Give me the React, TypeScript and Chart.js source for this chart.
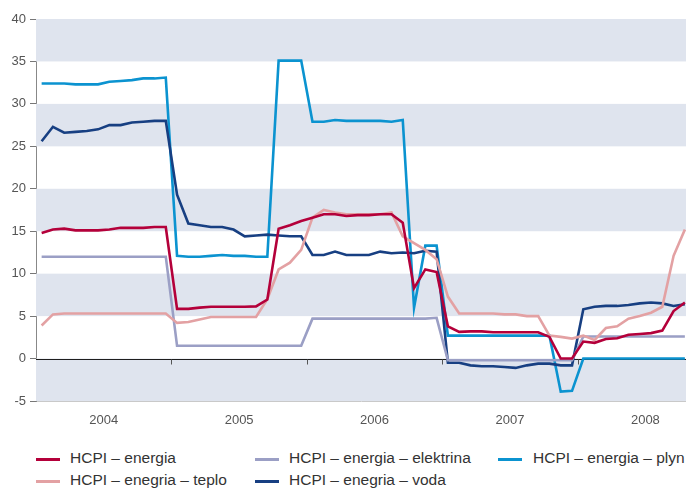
import React, { useEffect, useRef } from "react";
import { Chart, registerables } from "chart.js";

Chart.register(...registerables);

const years = ["2004", "2005", "2006", "2007", "2008"];
const yTicks = [-5, 0, 5, 10, 15, 20, 25, 30, 35, 40];

// monthly values, Jan 2004 – Oct 2008
const energia = [
  14.8, 15.2, 15.3, 15.1, 15.1, 15.1, 15.2, 15.4, 15.4, 15.4, 15.5, 15.5,
  5.85, 5.85, 6.0, 6.1, 6.1, 6.1, 6.1, 6.15, 6.95, 15.3, 15.7, 16.2,
  16.6, 17.0, 17.0, 16.8, 16.9, 16.9, 17.0, 17.0, 16.0, 8.3, 10.5, 10.2,
  3.8, 3.15, 3.2, 3.2, 3.1, 3.1, 3.1, 3.1, 3.1, 2.55, 0.0, 0.0,
  2.0, 1.85, 2.3, 2.4, 2.8, 2.9, 3.0, 3.3, 5.6, 6.6,
];
const teplo = [
  3.9, 5.2, 5.3, 5.3, 5.3, 5.3, 5.3, 5.3, 5.3, 5.3, 5.3, 5.3,
  4.2, 4.3, 4.6, 4.9, 4.9, 4.9, 4.9, 4.9, 7.0, 10.5, 11.3, 12.8,
  16.6, 17.5, 17.2, 17.0, 17.0, 17.0, 17.0, 17.2, 14.4, 13.6, 12.8, 11.7,
  7.3, 5.3, 5.3, 5.3, 5.3, 5.2, 5.2, 5.0, 5.0, 2.7, 2.55, 2.35,
  2.7, 2.2, 3.6, 3.8, 4.7, 5.0, 5.4, 6.1, 12.1, 15.2,
];
const elektrina = [
  12.0, 12.0, 12.0, 12.0, 12.0, 12.0, 12.0, 12.0, 12.0, 12.0, 12.0, 12.0,
  1.5, 1.5, 1.5, 1.5, 1.5, 1.5, 1.5, 1.5, 1.5, 1.5, 1.5, 1.5,
  4.7, 4.7, 4.7, 4.7, 4.7, 4.7, 4.7, 4.7, 4.7, 4.7, 4.7, 4.8,
  -0.2, -0.2, -0.2, -0.2, -0.2, -0.2, -0.2, -0.2, -0.2, -0.2, -0.2, -0.2,
  2.6, 2.6, 2.6, 2.6, 2.6, 2.6, 2.6, 2.6, 2.6, 2.6,
];
const plyn = [
  32.4, 32.4, 32.4, 32.3, 32.3, 32.3, 32.6, 32.7, 32.8, 33.0, 33.0, 33.1,
  12.1, 12.0, 12.0, 12.1, 12.2, 12.1, 12.1, 12.0, 12.0, 35.1, 35.1, 35.1,
  27.9, 27.9, 28.1, 28.0, 28.0, 28.0, 28.0, 27.9, 28.1, 6.0, 13.3, 13.3,
  2.7, 2.7, 2.7, 2.7, 2.7, 2.7, 2.7, 2.7, 2.7, 2.7, -3.9, -3.8,
  0.0, 0.0, 0.0, 0.0, 0.0, 0.0, 0.0, 0.0, 0.0, 0.0,
];
const voda = [
  25.6, 27.3, 26.6, 26.7, 26.8, 27.0, 27.5, 27.5, 27.8, 27.9, 28.0, 28.0,
  19.3, 15.9, 15.7, 15.5, 15.5, 15.2, 14.4, 14.5, 14.6, 14.5, 14.4, 14.4,
  12.2, 12.2, 12.6, 12.2, 12.2, 12.2, 12.6, 12.4, 12.5, 12.4, 12.7, 12.6,
  -0.5, -0.5, -0.8, -0.9, -0.9, -1.0, -1.1, -0.8, -0.6, -0.6, -0.8, -0.8,
  5.8, 6.1, 6.2, 6.2, 6.3, 6.5, 6.6, 6.5, 6.2, 6.4,
];

const seriesNames = [
  "HCPI – energia",
  "HCPI – enegria – teplo",
  "HCPI – energia – elektrina",
  "HCPI – enegria – voda",
  "HCPI – energia – plyn",
];
const seriesColors = ["#b4003a", "#e3a1a3", "#9b9fc5", "#173f82", "#0b93d0"];

const FONT = '"Liberation Sans", Arial, sans-serif';

const legendItems = [
  { name: seriesNames[0], color: seriesColors[0], lx: 36, tx: 70, y: 459 },
  { name: seriesNames[2], color: seriesColors[2], lx: 255, tx: 289, y: 459 },
  { name: seriesNames[4], color: seriesColors[4], lx: 498, tx: 533, y: 459 },
  { name: seriesNames[1], color: seriesColors[1], lx: 36, tx: 70, y: 481 },
  { name: seriesNames[3], color: seriesColors[3], lx: 255, tx: 289, y: 481 },
];

const toPoints = (arr: number[]) => arr.map((v, i) => ({ x: i + 0.5, y: v }));

const bandsPlugin = {
  id: "bands",
  beforeDatasetsDraw(chart: any) {
    const { ctx, chartArea, scales } = chart;
    const y = scales.y;
    ctx.save();
    ctx.fillStyle = "#dfe4ee";
    for (const v of [-5, 5, 15, 25, 35]) {
      const top = y.getPixelForValue(v + 5);
      const bot = y.getPixelForValue(v);
      ctx.fillRect(chartArea.left, top, chartArea.right - chartArea.left, bot - top);
    }
    // zero line
    const zy = Math.round(y.getPixelForValue(0)) + 0.5;
    ctx.strokeStyle = "#1e1e1e";
    ctx.lineWidth = 1;
    ctx.beginPath();
    ctx.moveTo(chartArea.left, zy);
    ctx.lineTo(chartArea.right, zy);
    ctx.stroke();
    // year boundary ticks on zero line
    ctx.strokeStyle = "#555";
    for (let k = 1; k <= 4; k++) {
      const px = Math.round(scales.x.getPixelForValue(k * 12)) + 0.5;
      ctx.beginPath();
      ctx.moveTo(px, zy);
      ctx.lineTo(px, zy + 5);
      ctx.stroke();
    }
    ctx.restore();
  },
};

export default function App() {
  const ref = useRef<HTMLCanvasElement>(null);
  useEffect(() => {
    if (!ref.current) return;
    const data = [energia, teplo, elektrina, voda, plyn];
    const chart = new Chart(ref.current, {
      type: "line",
      data: {
        datasets: data.map((arr, i) => ({
          label: seriesNames[i],
          data: toPoints(arr),
          borderColor: seriesColors[i],
          backgroundColor: seriesColors[i],
          borderWidth: 2.6,
          pointRadius: 0,
          tension: 0,
          fill: false,
        })),
      },
      options: {
        animation: false,
        responsive: false,
        devicePixelRatio: 1,
        layout: { padding: { top: 19, left: 0, right: 0, bottom: 0 } },
        plugins: { legend: { display: false }, tooltip: { enabled: false } },
        scales: {
          x: {
            type: "linear",
            min: 0,
            max: 57.6,
            afterBuildTicks: (scale: any) => {
              scale.ticks = years.map((_, i) => ({ value: i * 12 + 6 }));
            },
            afterFit: (scale: any) => {
              scale.height = 39;
            },
            grid: { display: false, drawTicks: false },
            border: { display: false },
            ticks: {
              autoSkip: false,
              maxRotation: 0,
              padding: 12,
              color: "#555",
              font: { family: FONT, size: 13 },
              callback: (v: any) => years[Math.floor(Number(v) / 12)] ?? "",
            },
          },
          y: {
            min: -5,
            max: 40,
            afterBuildTicks: (scale: any) => {
              scale.ticks = yTicks.map((v) => ({ value: v }));
            },
            afterFit: (scale: any) => {
              scale.width = 36;
            },
            border: { display: true, color: "#888", width: 1 },
            grid: {
              drawOnChartArea: true,
              tickLength: 6,
              tickColor: "#777",
              color: (c: any) =>
                c.tick && c.tick.value === 40
                  ? "#a9a9a9"
                  : c.tick && c.tick.value === -5
                  ? "#c9c9c9"
                  : "rgba(0,0,0,0)",
            },
            ticks: {
              padding: 4,
              color: "#555",
              font: { family: FONT, size: 13 },
            },
          },
        },
      },
      plugins: [bandsPlugin],
    });
    return () => chart.destroy();
  }, []);

  return (
    <div style={{ position: "absolute", left: 0, top: 0, width: 686, height: 488, overflow: "hidden", background: "#fff" }}>
      <canvas ref={ref} width={686} height={440} style={{ position: "absolute", left: 0, top: 0, width: 686, height: 440 }} />
      {legendItems.map((it, i) => (
        <React.Fragment key={i}>
          <div
            style={{
              position: "absolute",
              left: it.lx,
              top: it.y - 1.5,
              width: 24,
              height: 3,
              background: it.color,
            }}
          />
          <div
            style={{
              position: "absolute",
              left: it.tx,
              top: it.y - 10,
              fontFamily: FONT,
              fontSize: 15.5,
              lineHeight: "18px",
              color: "#333",
              whiteSpace: "nowrap",
            }}
          >
            {it.name}
          </div>
        </React.Fragment>
      ))}
    </div>
  );
}
